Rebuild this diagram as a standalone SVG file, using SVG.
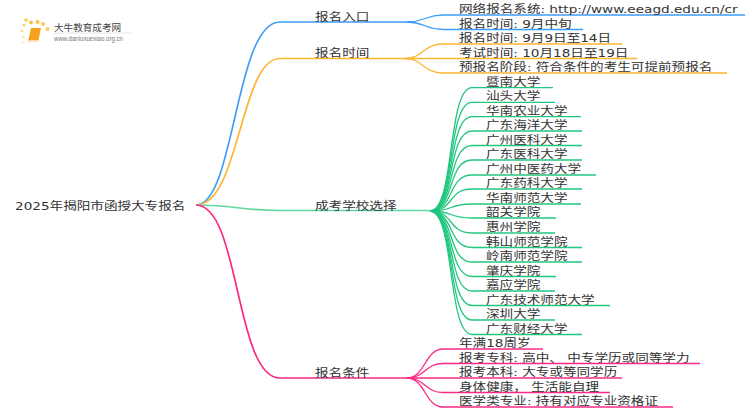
<svg xmlns="http://www.w3.org/2000/svg" width="750" height="410" viewBox="0 0 750 410">
<defs><style>
text{font-family:"DejaVu Sans","Noto Sans CJK SC",sans-serif;font-size:13.6px;fill:#333}
path{fill:none}
.b{stroke:#3d9dfb}.o{stroke:#fdb62f}.g{stroke:#22c77f}.p{stroke:#fb2a85}
.m{stroke-width:1.7}.c{stroke-width:1.3}
</style></defs>
<rect width="750" height="410" fill="#fff"/>
<g id="logo">
<circle cx="24" cy="25" r="1.6" fill="#fbd277"/><circle cx="22" cy="31" r="1.3" fill="#fbd277"/><circle cx="26" cy="20" r="1.8" fill="#fbc95c"/><circle cx="31" cy="22.500" r="2" fill="#fbc23f"/><circle cx="37.500" cy="22" r="2" fill="#fbc23f"/><circle cx="43" cy="24" r="2" fill="#fbc95c"/><circle cx="47.500" cy="29" r="2.300" fill="#fbd277"/><circle cx="23.500" cy="37" r="1.300" fill="#fde2a8"/><circle cx="23.500" cy="42.500" r="1" fill="#fde2a8"/>
<path d="M31 28H41L38 42H28Z" style="fill:#f5a21e"/><path d="M28 42H38L38.500 40H29Z" style="fill:#fbe0b0"/>
<path d="M54 33H132" style="stroke:#e6e6e6" stroke-width="1"/>
<text x="54" y="31" style="font-size:9.600px;fill:#444">大牛教育成考网</text>
<text x="54" y="41" textLength="69" lengthAdjust="spacingAndGlyphs" style="font-family:'Liberation Sans',sans-serif;font-size:6.500px;fill:#777">www.daniuxuexiao.org.cn</text>
</g>
<g id="connectors">
<g class="b m"><path d="M196 205C235 205 235 22 280 22H407"/></g>
<g class="o m"><path d="M196 205C240 205 240 58.500 280 58.500H405"/></g>
<g class="g m"><path d="M196 205C235 205 240 210.500 280 210.500H430" style="stroke:#5fd8a2"/></g>
<g class="p m"><path d="M196 205C240 205 235 378 280 378H407"/></g>
<g class="b c"><path d="M407 22C425 22 425 15 443 15H745"/><path d="M407 22C425 22 425 29.500 443 29.500H583"/></g>
<g class="o c"><path d="M405 58.500C423 58.500 423 44 443 44H622"/><path d="M405 58.500H637"/><path d="M405 58.500C423 58.500 423 73 443 73H727"/></g>
<g class="g c">
<path d="M430 211C455 211 447 87.700 472 87.700H553"/>
<path d="M430 211C455 211 447 102.300 472 102.300H555"/>
<path d="M430 211C455 211 447 116.700 472 116.700H581"/>
<path d="M430 211C455 211 447 131 472 131H582"/>
<path d="M430 211C455 211 447 145.500 472 145.500H582"/>
<path d="M430 211C455 211 447 160 472 160H582"/>
<path d="M430 211C455 211 447 175 472 175H596"/>
<path d="M430 211C455 211 447 189 472 189H582"/>
<path d="M430 211C455 211 447 204 472 204H581"/>
<path d="M430 211C455 211 447 218 472 218H556"/>
<path d="M430 211C455 211 447 233 472 233H555"/>
<path d="M430 211C455 211 447 247.500 472 247.500H582"/>
<path d="M430 211C455 211 447 262 472 262H582"/>
<path d="M430 211C455 211 447 276.500 472 276.500H556"/>
<path d="M430 211C455 211 447 291 472 291H555"/>
<path d="M430 211C455 211 447 305.500 472 305.500H610"/>
<path d="M430 211C455 211 447 320 472 320H555"/>
<path d="M430 211C455 211 447 334.500 472 334.500H582"/>
</g>
<g class="p c">
<path d="M407 378C425 378 425 349 443 349H543"/>
<path d="M407 378C425 378 425 363.500 443 363.500H700"/>
<path d="M407 378H622"/>
<path d="M407 378C425 378 425 392.500 443 392.500H610"/>
<path d="M407 378C425 378 425 407 443 407H673"/>
</g>
</g>
<g id="root"><text transform="translate(15 209.500) scale(1 .8)">2025年揭阳市函授大专报名</text></g>
<g id="n1"><text transform="translate(315 20.500) scale(1 .8)">报名入口</text></g>
<g id="n2"><text transform="translate(315 56.500) scale(1 .8)">报名时间</text></g>
<g id="n3"><text transform="translate(315 209.500) scale(1 .8)">成考学校选择</text></g>
<g id="n4"><text transform="translate(315 376.500) scale(1 .8)">报名条件</text></g>
<g id="a1"><text transform="translate(459 13) scale(1 .8)">网络报名系统: http://www.eeagd.edu.cn/cr</text></g>
<g id="a2"><text transform="translate(459 27.500) scale(1 .8)">报名时间: 9月中旬</text></g>
<g id="b1"><text transform="translate(459 42) scale(1 .8)">报名时间: 9月9日至14日</text></g>
<g id="b2"><text transform="translate(459 56.500) scale(1 .8)">考试时间: 10月18日至19日</text></g>
<g id="b3"><text transform="translate(459 71) scale(1 .8)">预报名阶段: 符合条件的考生可提前预报名</text></g>
<g id="s1"><text transform="translate(486 85.700) scale(1 .8)">暨南大学</text></g>
<g id="s2"><text transform="translate(486 100.300) scale(1 .8)">汕头大学</text></g>
<g id="s3"><text transform="translate(486 114.700) scale(1 .8)">华南农业大学</text></g>
<g id="s4"><text transform="translate(486 129) scale(1 .8)">广东海洋大学</text></g>
<g id="s5"><text transform="translate(486 143.500) scale(1 .8)">广州医科大学</text></g>
<g id="s6"><text transform="translate(486 158) scale(1 .8)">广东医科大学</text></g>
<g id="s7"><text transform="translate(486 173) scale(1 .8)">广州中医药大学</text></g>
<g id="s8"><text transform="translate(486 187) scale(1 .8)">广东药科大学</text></g>
<g id="s9"><text transform="translate(486 202) scale(1 .8)">华南师范大学</text></g>
<g id="s10"><text transform="translate(486 216) scale(1 .8)">韶关学院</text></g>
<g id="s11"><text transform="translate(486 231) scale(1 .8)">惠州学院</text></g>
<g id="s12"><text transform="translate(486 245.500) scale(1 .8)">韩山师范学院</text></g>
<g id="s13"><text transform="translate(486 260) scale(1 .8)">岭南师范学院</text></g>
<g id="s14"><text transform="translate(486 274.500) scale(1 .8)">肇庆学院</text></g>
<g id="s15"><text transform="translate(486 289) scale(1 .8)">嘉应学院</text></g>
<g id="s16"><text transform="translate(486 303.500) scale(1 .8)">广东技术师范大学</text></g>
<g id="s17"><text transform="translate(486 318) scale(1 .8)">深圳大学</text></g>
<g id="s18"><text transform="translate(486 332.500) scale(1 .8)">广东财经大学</text></g>
<g id="c1"><text transform="translate(459 347) scale(1 .8)">年满18周岁</text></g>
<g id="c2"><text transform="translate(459 361.500) scale(1 .8)">报考专科: 高中、 中专学历或同等学力</text></g>
<g id="c3"><text transform="translate(459 376) scale(1 .8)">报考本科: 大专或等同学历</text></g>
<g id="c4"><text transform="translate(459 390.500) scale(1 .8)">身体健康， 生活能自理</text></g>
<g id="c5"><text transform="translate(459 405) scale(1 .8)">医学类专业: 持有对应专业资格证</text></g>
</svg>
